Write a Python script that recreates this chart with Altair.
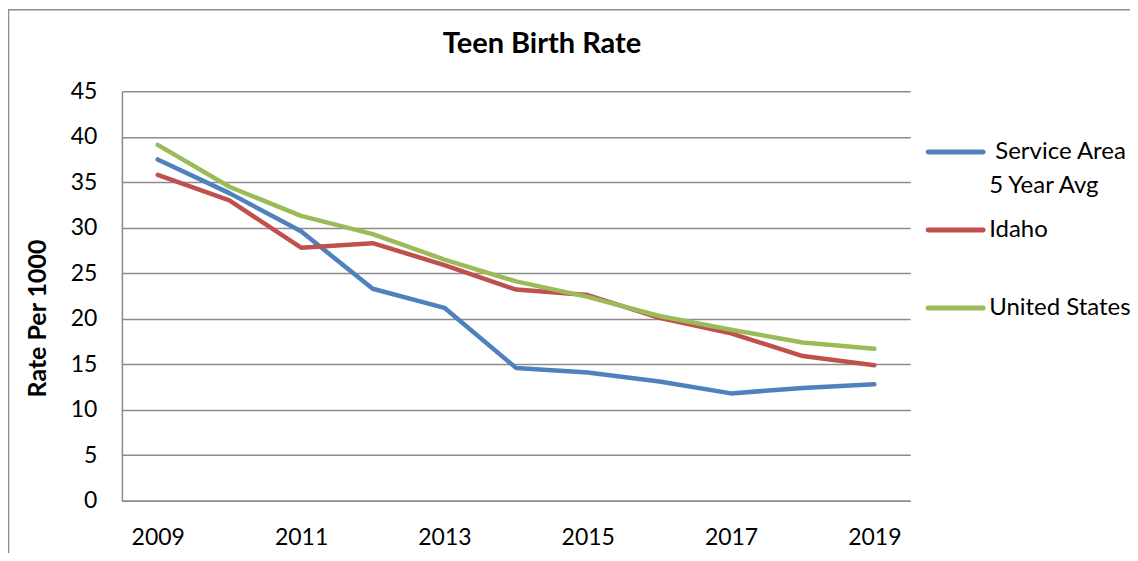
import altair as alt
import pandas as pd

years = [2009, 2010, 2011, 2012, 2013, 2014, 2015, 2016, 2017, 2018, 2019]
service_area = [37.5, 33.8, 29.6, 23.3, 21.2, 14.6, 14.1, 13.1, 11.8, 12.4, 12.8]
idaho = [35.8, 33.0, 27.8, 28.3, 25.9, 23.2, 22.6, 20.1, 18.4, 15.9, 14.9]
united_states = [39.1, 34.5, 31.3, 29.3, 26.5, 24.1, 22.4, 20.3, 18.8, 17.4, 16.7]

series_names = ["Service Area 5 Year Avg", "Idaho", "United States"]
legend_labels = ["\u200b Service Area\n5 Year Avg", "Idaho", "United States"]
series_colors = ["#4F81BD", "#C0504D", "#9BBB59"]
x_ticks = [2009, 2011, 2013, 2015, 2017, 2019]
y_ticks = [0, 5, 10, 15, 20, 25, 30, 35, 40, 45]

rows = []
for name, vals in zip(series_names, [service_area, idaho, united_states]):
    for yr, v in zip(years, vals):
        rows.append({"Year": yr, "Rate": v, "Series": name})
df = pd.DataFrame(rows)

leg_df = pd.DataFrame({"Series": series_names, "Label": legend_labels,
                       "Rank": list(range(len(series_names)))})

FONT = "Lato"
GRAY = "#8c8c8c"
color_scale = alt.Scale(domain=series_names, range=series_colors)

lines = alt.Chart(df).mark_line(strokeWidth=4.5, strokeCap="round", strokeJoin="round").encode(
    x=alt.X("Year:Q",
            scale=alt.Scale(domain=[2008.5, 2019.5], nice=False, zero=False),
            axis=alt.Axis(values=x_ticks, format="d", title=None, grid=False, ticks=False,
                          labelFontSize=23, labelColor="#000000", labelPadding=26,
                          domainColor=GRAY, domainWidth=1.5, labelFont=FONT)),
    y=alt.Y("Rate:Q",
            scale=alt.Scale(domain=[0, 45], nice=False),
            axis=alt.Axis(values=y_ticks, title="Rate Per 1000", grid=True, ticks=False,
                          gridColor=GRAY, gridWidth=1.5,
                          domainColor=GRAY, domainWidth=1.5,
                          labelFontSize=23, labelColor="#000000", labelPadding=25, labelFont=FONT,
                          titleFontSize=25, titleFont=FONT, titleFontWeight="bold", titleColor="#000000",
                          titlePadding=20, titleY=227)),
    color=alt.Color("Series:N", scale=color_scale, legend=None),
    order=alt.Order("Series:N"),
)

leg_y = alt.Y("Rank:Q", scale=alt.Scale(domain=[0, 2], range=[61, 217]), axis=None)

leg_rules = alt.Chart(leg_df).mark_rule(strokeWidth=5, strokeCap="round").encode(
    x=alt.value(807), x2=alt.value(862), y=leg_y,
    color=alt.Color("Series:N", scale=color_scale, legend=None),
)

leg_text = alt.Chart(leg_df).mark_text(align="left", baseline="middle", fontSize=24, font=FONT,
                                       color="#000000", lineBreak="\n", lineHeight=34).encode(
    x=alt.value(868), y=leg_y, text="Label:N",
)

legend = alt.layer(leg_rules, leg_text)

border = alt.Chart(pd.DataFrame({"a": [0]})).mark_rect(fill=None, stroke=GRAY, strokeWidth=1.5).encode(
    x=alt.value(-113.5), x2=alt.value(1100), y=alt.value(-81.5), y2=alt.value(480)
)

chart = alt.layer(border, lines, legend).resolve_scale(y="independent").properties(
    width=789, height=410,
    title=alt.TitleParams("Teen Birth Rate", fontSize=29, font=FONT, fontWeight="bold",
                          color="#000000", anchor="middle", dx=26, dy=73, offset=0,
                          baseline="alphabetic"),
    autosize=alt.AutoSizeParams(type="none"),
    padding={"left": 114, "top": 83, "right": 220, "bottom": 52},
).configure_view(stroke=None)

chart.save("out.html", embed_options={"renderer": "svg", "actions": False})
